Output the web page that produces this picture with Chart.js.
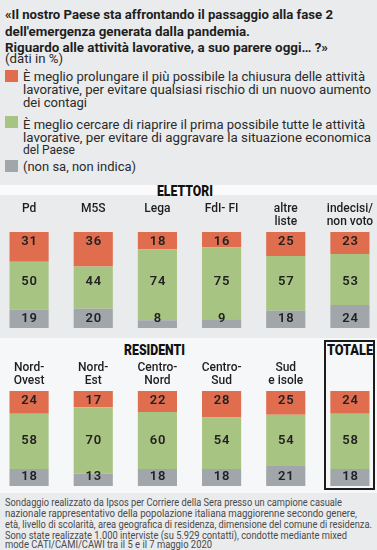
<!DOCTYPE html>
<html><head><meta charset="utf-8">
<script src="https://cdn.jsdelivr.net/npm/chart.js@4.4.1/dist/chart.umd.min.js"></script>
<style>
html,body{margin:0;padding:0;width:377px;height:550px;overflow:hidden;background:#e9ebed;font-family:Roboto,"Noto Sans",sans-serif;color:#222;position:relative;}
.t{position:absolute;white-space:nowrap;transform-origin:0 50%;}
.title{font-weight:700;font-size:13.5px;line-height:16px;color:#1e1e1e;}
.leg{font-size:12.5px;line-height:13px;color:#2a2a2a;}
.dati{font-size:12.5px;line-height:13px;color:#2a2a2a;}
.foot{font-size:10px;line-height:11px;color:#4a4a4a;}
.sec{font-weight:900;font-size:15px;line-height:15px;color:#111;}
.sw{position:absolute;left:5px;width:13px;height:12px;}
canvas{position:absolute;}
</style></head><body>
<div id="band1" style="position:absolute;left:0;top:185px;width:377px;height:10px;background:#fbfbfc;"></div>
<div id="panel2" style="position:absolute;left:0;top:338px;width:377px;height:155px;background:#f6f7f8;"></div>
<div id="totbox" style="position:absolute;left:324px;top:340px;width:51px;height:150px;box-sizing:border-box;border:2px solid #1c1c1c;"></div>

<div class="t title" style="left:5px;top:6px;" data-w="328">«Il nostro Paese sta affrontando il passaggio alla fase 2</div>
<div class="t title" style="left:5px;top:22.5px;" data-w="245">dell'emergenza generata dalla pandemia.</div>
<div class="t title" style="left:5px;top:38.5px;" data-w="323">Riguardo alle attività lavorative, a suo parere oggi… ?»</div>
<div class="t dati" id="dati" style="left:5px;top:52px;" data-w="58">(dati in %)</div>

<div class="sw" style="top:69.5px;background:#df6d4e;"></div>
<div class="t leg" style="left:23px;top:69.5px;" data-w="342">È meglio prolungare il più possibile la chiusura delle attività</div>
<div class="t leg" style="left:23px;top:82.5px;" data-w="348">lavorative, per evitare qualsiasi rischio di un nuovo aumento</div>
<div class="t leg" style="left:23px;top:95.5px;" data-w="64">dei contagi</div>

<div class="sw" style="top:115.5px;background:#a8c483;"></div>
<div class="t leg" style="left:23px;top:117.5px;" data-w="342">È meglio cercare di riaprire il prima possibile tutte le attività</div>
<div class="t leg" style="left:23px;top:130.5px;" data-w="348">lavorative, per evitare di aggravare la situazione economica</div>
<div class="t leg" style="left:23px;top:143px;" data-w="52">del Paese</div>

<div class="sw" style="top:159.5px;background:#a1a6ab;"></div>
<div class="t leg" style="left:23px;top:159.5px;" data-w="113">(non sa, non indica)</div>

<div class="t sec" style="left:157px;top:184px;" data-w="56">ELETTORI</div>
<div class="t sec" style="left:124px;top:342.5px;" data-w="61">RESIDENTI</div>
<div class="t sec" style="left:327px;top:342.5px;" data-w="46">TOTALE</div>

<canvas id="c1" width="385" height="134" style="left:-3px;top:196px;width:385px;height:134px;"></canvas>
<canvas id="c2" width="385" height="133" style="left:-3px;top:355px;width:385px;height:133px;"></canvas>

<div class="t foot" style="left:5px;top:496.5px;" data-w="337">Sondaggio realizzato da Ipsos per Corriere della Sera presso un campione casuale</div>
<div class="t foot" style="left:5px;top:507.5px;" data-w="352">nazionale rappresentativo della popolazione italiana maggiorenne secondo genere,</div>
<div class="t foot" style="left:5px;top:518.5px;" data-w="367">età, livello di scolarità, area geografica di residenza, dimensione del comune di residenza.</div>
<div class="t foot" style="left:5px;top:529.5px;" data-w="342">Sono state realizzate 1.000 interviste (su 5.929 contatti), condotte mediante mixed</div>
<div class="t foot" style="left:5px;top:539px;" data-w="207">mode CATI/CAMI/CAWI tra il 5 e il 7 maggio 2020</div>

<script>
// ---- DATA ----
const elettoriCategories = [['Pd'], ['M5S'], ['Lega'], ['FdI- FI'], ['altre', 'liste'], ['indecisi/', 'non voto']];
const elettoriChiusura = [31, 36, 18, 16, 25, 23];
const elettoriRiaprire = [50, 44, 74, 75, 57, 53];
const elettoriNonSa    = [19, 20, 8, 9, 18, 24];

const residentiCategories = [['Nord-', 'Ovest'], ['Nord-', 'Est'], ['Centro-', 'Nord'], ['Centro-', 'Sud'], ['Sud', 'e isole'], ['']];
const residentiChiusura = [24, 17, 22, 28, 25, 24];
const residentiRiaprire = [58, 70, 60, 54, 54, 58];
const residentiNonSa    = [18, 13, 18, 18, 21, 18];

const seriesNames = ['(non sa, non indica)', 'È meglio cercare di riaprire', 'È meglio prolungare la chiusura'];
const seriesColors = ['#a1a6ab', '#a8c483', '#df6d4e'];
const labelRows = [9.5, 48, 90];

function fitTexts() {
  document.querySelectorAll('[data-w]').forEach(el => {
    el.style.transform = 'none';
    const w = el.getBoundingClientRect().width;
    const target = parseFloat(el.dataset.w);
    if (w > 0) el.style.transform = 'scaleX(' + (target / w) + ')';
  });
}
fitTexts();
if (document.fonts && document.fonts.ready) document.fonts.ready.then(fitTexts);

const valueLabels = {
  id: 'valueLabels',
  afterDatasetsDraw(chart) {
    const ctx = chart.ctx;
    const y = chart.scales.y;
    ctx.save();
    ctx.font = '600 13px Roboto, sans-serif';
    try { ctx.letterSpacing = '0.8px'; } catch (e) {}
    ctx.fillStyle = '#222';
    ctx.textAlign = 'center';
    ctx.textBaseline = 'middle';
    chart.data.datasets.forEach((ds, i) => {
      const meta = chart.getDatasetMeta(i);
      meta.data.forEach((el, j) => {
        ctx.fillText(String(ds.data[j]), el.x + 0.5, y.getPixelForValue(labelRows[i]));
      });
    });
    ctx.restore();
  }
};

function makeChart(id, cats, nonSa, riaprire, chiusura) {
  return new Chart(document.getElementById(id), {
    type: 'bar',
    data: {
      labels: cats,
      datasets: [nonSa, riaprire, chiusura].map((d, i) => ({
        label: seriesNames[i],
        data: d,
        backgroundColor: seriesColors[i],
        borderWidth: 0,
        barPercentage: 0.61,
        categoryPercentage: 1
      }))
    },
    options: {
      responsive: false,
      animation: false,
      devicePixelRatio: 1,
      layout: { padding: { top: 0, bottom: 2, left: 0, right: 0 } },
      plugins: { legend: { display: false }, tooltip: { enabled: false } },
      scales: {
        x: {
          type: 'category',
          position: 'top',
          stacked: true,
          grid: { display: false, drawTicks: false },
          border: { display: false },
          ticks: {
            color: '#1e1e1e',
            font: { family: 'Roboto, sans-serif', size: 12, weight: 500, lineHeight: 1.1 },
            padding: 3,
            crossAlign: 'far',
            maxRotation: 0,
            minRotation: 0,
            autoSkip: false
          },
          afterFit(scale) { scale.height = 36; }
        },
        y: { stacked: true, display: false, min: 0, max: 100 }
      }
    },
    plugins: [valueLabels]
  });
}

makeChart('c1', elettoriCategories, elettoriNonSa, elettoriRiaprire, elettoriChiusura);
makeChart('c2', residentiCategories, residentiNonSa, residentiRiaprire, residentiChiusura);
</script>
</body></html>
